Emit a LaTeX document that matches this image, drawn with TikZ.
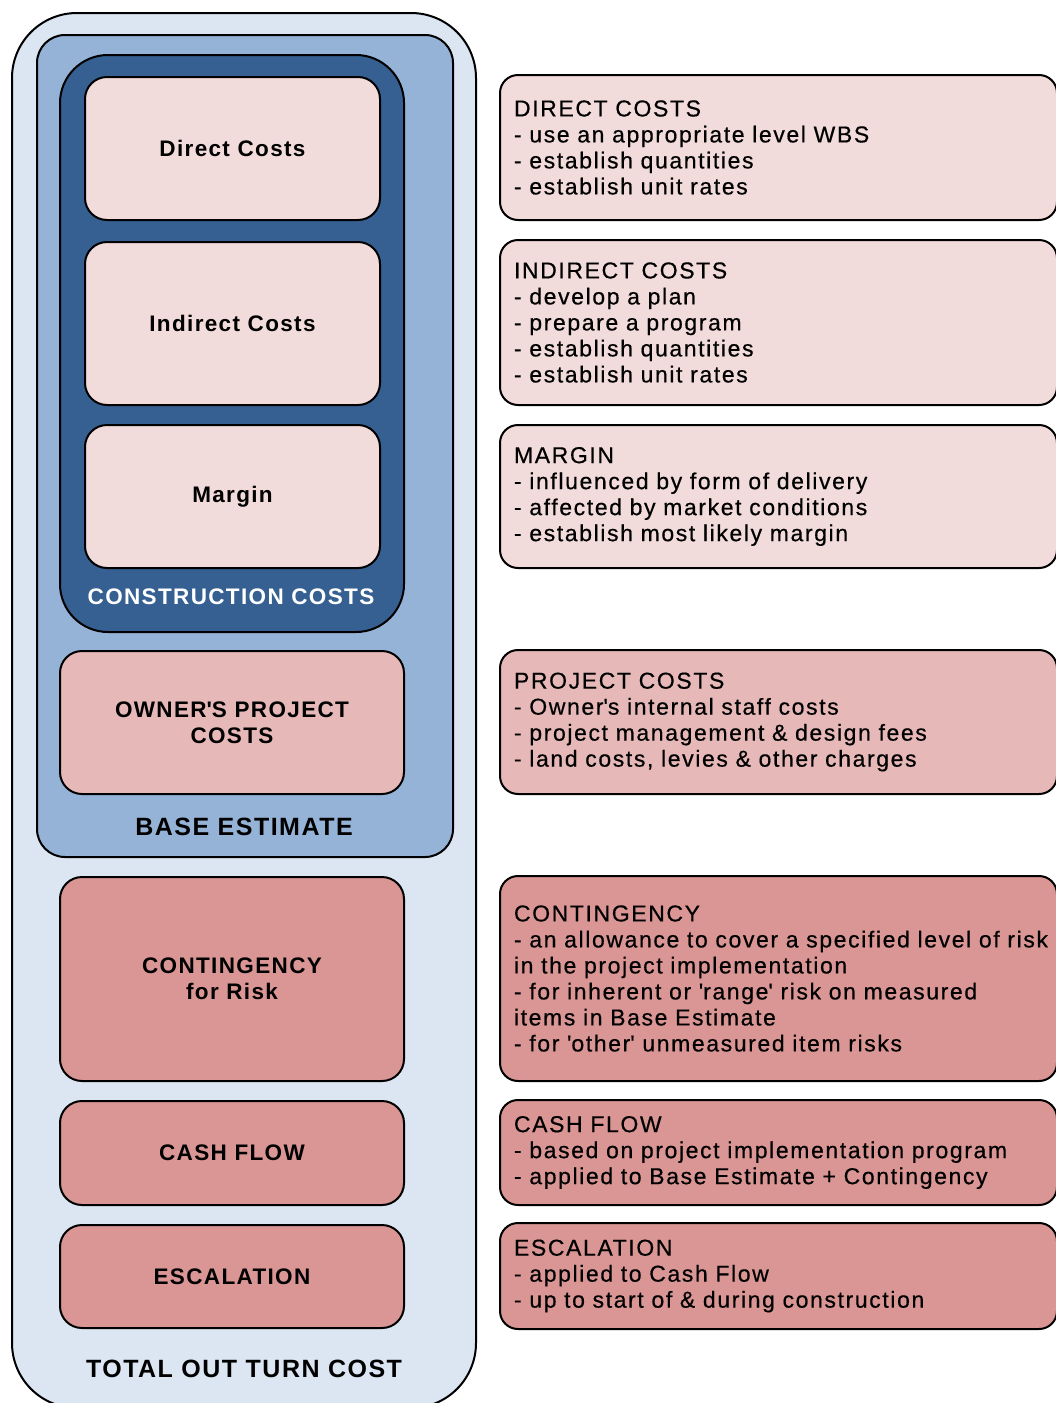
\documentclass[tikz,border=0pt]{standalone}
\usepackage{fontspec}
\setmainfont{Liberation Sans}
\newfontfamily\labelfont[LetterSpace=6]{Liberation Sans}
\newfontfamily\notefont[LetterSpace=7,FakeBold=0.5]{Liberation Sans}

\definecolor{totalfill}{RGB}{220,230,242}
\definecolor{basefill}{RGB}{149,179,215}
\definecolor{constfill}{RGB}{54,96,146}
\definecolor{palepink}{RGB}{242,220,219}
\definecolor{midpink}{RGB}{230,185,184}
\definecolor{rosepink}{RGB}{218,150,148}

\tikzset{
  costbox/.style={draw=black, line width=2pt, rounded corners=22pt, inner sep=0pt,
    align=center, font=\labelfont\bfseries\fontsize{22.5}{26}\selectfont},
  notebox/.style={draw=black, line width=2pt, rounded corners=18pt, inner xsep=14pt, inner ysep=0pt,
    text width=529pt, align=left, font=\notefont\fontsize{23}{26}\selectfont},
  boxlabel/.style={inner sep=0pt, font=\labelfont\bfseries\fontsize{22.5}{26}\selectfont}
}

\begin{document}
\begin{tikzpicture}[x=1pt,y=1pt,yscale=-1,xscale=1]
\clip (0,0) rectangle (1056,1403);

%Shape: Rounded Rect [total out turn cost]
\draw [line width=2pt, fill=totalfill, rounded corners=65pt] (12,13) rectangle (476,1408);
%Shape: Rounded Rect [base estimate]
\draw [line width=2pt, fill=basefill, rounded corners=28pt] (37,35) rectangle (453,857);
%Shape: Rounded Rect [construction costs]
\draw [line width=2pt, fill=constfill, rounded corners=48pt] (60,55) rectangle (404,632);

%Left column boxes
\node [costbox, fill=palepink, minimum width=295pt, minimum height=143pt] (direct) at (232.5,148.5) {Direct Costs};
\node [costbox, fill=palepink, minimum width=295pt, minimum height=163pt] (indirect) at (232.5,323.5) {Indirect Costs};
\node [costbox, fill=palepink, minimum width=295pt, minimum height=143pt] (margin) at (232.5,496.5) {Margin};
\node [costbox, fill=midpink, minimum width=344pt, minimum height=143pt] (owner) at (232,722.5) {OWNER\textquotesingle S PROJECT\\COSTS};
\node [costbox, fill=rosepink, minimum width=344pt, minimum height=204pt] (contingency) at (232,979) {CONTINGENCY\\for Risk};
\node [costbox, fill=rosepink, minimum width=344pt, minimum height=104pt] (cashflow) at (232,1153) {CASH FLOW};
\node [costbox, fill=rosepink, minimum width=344pt, minimum height=103pt] (escalation) at (232,1276.5) {ESCALATION};

% Text Node
\node [boxlabel, text=white] (constlabel) at (231,597) {CONSTRUCTION COSTS};
% Text Node
\node [boxlabel, font=\labelfont\bfseries\fontsize{25}{28}\selectfont] (baselabel) at (244,827) {BASE ESTIMATE};
% Text Node
\node [boxlabel, font=\labelfont\bfseries\fontsize{25}{28}\selectfont] (totallabel) at (244,1369) {TOTAL OUT TURN COST};

%Right column notes
\node [notebox, fill=palepink, minimum height=145pt] (directnote) at (778.5,147.5) {DIRECT COSTS\\- use an appropriate level WBS\\- establish quantities\\- establish unit rates};
\node [notebox, fill=palepink, minimum height=165pt] (indirectnote) at (778.5,322.5) {INDIRECT COSTS\\- develop a plan\\- prepare a program\\- establish quantities\\- establish unit rates};
\node [notebox, fill=palepink, minimum height=143pt] (marginnote) at (778.5,496.5) {MARGIN\\- influenced by form of delivery\\- affected by market conditions\\- establish most likely margin};
\node [notebox, fill=midpink, minimum height=144pt] (projectnote) at (778.5,722) {PROJECT COSTS\\- Owner\textquotesingle s internal staff costs\\- project management \& design fees\\- land costs, levies \& other charges};
\node [notebox, fill=rosepink, minimum height=205pt] (contingencynote) at (778.5,978.5) {CONTINGENCY\\\makebox[\linewidth][l]{- an allowance to cover a specified level of risk}\\in the project implementation\\- for inherent or \textquotesingle range\textquotesingle{} risk on measured\\items in Base Estimate\\- for \textquotesingle other\textquotesingle{} unmeasured item risks};
\node [notebox, fill=rosepink, minimum height=105pt] (cashnote) at (778.5,1152.5) {CASH FLOW\\- based on project implementation program\\- applied to Base Estimate + Contingency};
\node [notebox, fill=rosepink, minimum height=106pt] (escalationnote) at (778.5,1276) {ESCALATION\\- applied to Cash Flow\\- up to start of \& during construction};
\end{tikzpicture}
\end{document}
